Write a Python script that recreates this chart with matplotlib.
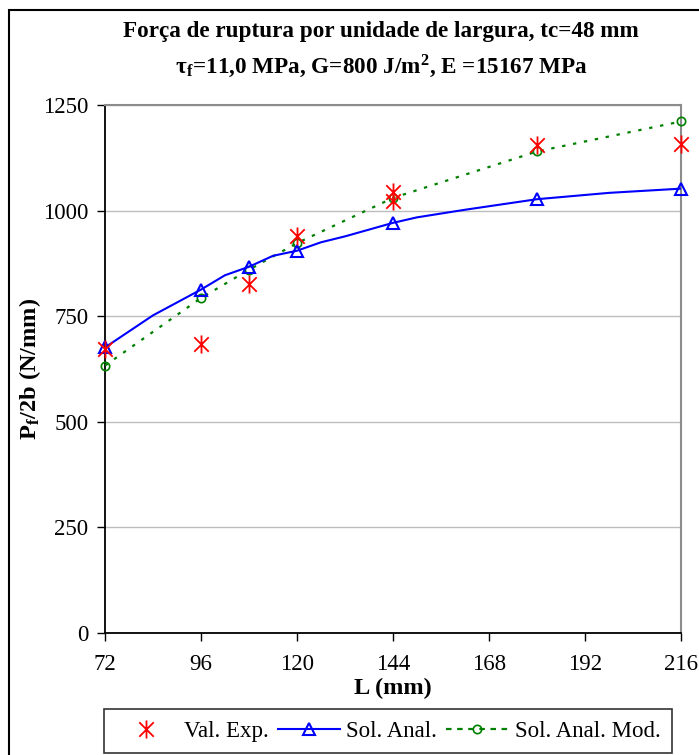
import matplotlib
matplotlib.use("Agg")
import matplotlib.pyplot as plt
from matplotlib.patches import Rectangle
from matplotlib.path import Path
from matplotlib.lines import Line2D

plt.rcParams['font.family'] = ['Liberation Serif', 'DejaVu Serif']
plt.rcParams['mathtext.fontset'] = 'stix'

# Data
L_exp = [72, 96, 108, 120, 144, 144, 180, 216]
P_exp = [673, 684, 827, 941, 1044, 1022, 1156, 1157]

L_anal_pts = [72, 96, 108, 120, 144, 180, 216]
P_anal_pts = [676, 813, 867, 905, 971, 1027, 1052]
L_anal_line = [72, 84, 96, 102, 108, 114, 120, 126, 132, 138, 144, 150, 162, 180, 198, 216]
P_anal_line = [676, 752, 813, 847, 867, 893, 905, 925, 939, 955, 971, 984, 1002, 1027, 1042, 1052]

L_mod = [72, 96, 108, 120, 144, 180, 216]
P_mod = [633, 793, 860, 923, 1030, 1140, 1211]

xticks = [72, 96, 120, 144, 168, 192, 216]
yticks = [0, 250, 500, 750, 1000, 1250]

star = Path([(-1, -1), (1, 1), (-1, 1), (1, -1), (0, -1.25), (0, 1.25)],
            [Path.MOVETO, Path.LINETO, Path.MOVETO, Path.LINETO, Path.MOVETO, Path.LINETO])

fig = plt.figure(figsize=(6.99, 7.55), dpi=100)
ax = fig.add_axes([105/699, 1-633/755, 576/699, 528/755])

ax.plot(L_mod, P_mod, color='#008000', linestyle=(0, (1.5, 3.5)), lw=1.6,
        marker='o', markersize=6, markerfacecolor='none', markeredgecolor='#008000',
        markeredgewidth=1.2, label='Sol. Anal. Mod.', zorder=3, clip_on=False)
ax.plot(L_anal_line, P_anal_line, color='#0000ff', lw=1.5, zorder=4)
ax.plot(L_anal_pts, P_anal_pts, color='#0000ff', lw=0, marker='^', markersize=8.5,
        markerfacecolor='none', markeredgewidth=1.5, label='Sol. Anal.', zorder=5, clip_on=False)
ax.plot(L_exp, P_exp, linestyle='none', marker=star, markersize=13,
        color='#ff0000', markeredgewidth=1.3, label='Val. Exp.', zorder=6, clip_on=False)

ax.set_xlim(72, 216)
ax.set_ylim(0, 1250)
ax.set_xticks(xticks)
ax.set_yticks(yticks)
ax.tick_params(axis='both', labelsize=16.5, direction='out', length=6, width=1)
ax.tick_params(axis='x', pad=9)
ax.tick_params(axis='y', pad=6)
ax.grid(axis='y', color='#bdbdbd', lw=1)
ax.set_axisbelow(True)
for s in ['top', 'right']:
    ax.spines[s].set_color('#8c8c8c')
    ax.spines[s].set_linewidth(1.5)
for s in ['left', 'bottom']:
    ax.spines[s].set_color('black')
    ax.spines[s].set_linewidth(1.3)

ax.set_xlabel('L (mm)', fontsize=17.5, fontweight='bold', labelpad=2)
ax.set_ylabel(r'P$_\mathregular{f}$/2b (N/mm)', fontsize=17.5, fontweight='bold', labelpad=0)

fig.text(381/699, 1-32/755, 'Força de ruptura por unidade de largura, tc=48 mm',
         ha='center', va='center', fontsize=16.7, fontweight='bold')
fig.text(381/699, 1-66/755, r'τ$_\mathregular{f}$=11,0 MPa, G=800 J/m$^\mathregular{2}$, E =15167 MPa',
         ha='center', va='center', fontsize=16.7, fontweight='bold')

h_exp = Line2D([], [], linestyle='none', marker=star, markersize=13,
               color='#ff0000', markeredgewidth=1.3)
h_anal = Line2D([], [], color='#0000ff', lw=1.5, marker='^', markersize=8.5,
                markerfacecolor='none', markeredgewidth=1.5)
h_mod = Line2D([], [], color='#008000', linestyle=(0, (2.5, 2.5)), lw=1.6,
               marker='o', markersize=6, markerfacecolor='none', markeredgewidth=1.2)
handles = [h_exp, h_anal, h_mod]
labels = ['Val. Exp.', 'Sol. Anal.', 'Sol. Anal. Mod.']
leg = fig.legend(handles, labels, loc='center', ncol=3,
                 bbox_to_anchor=(388/699, 1-731/755), fontsize=16.5, frameon=True,
                 fancybox=False, edgecolor='black', handlelength=2.7,
                 columnspacing=0.4, handletextpad=0.3, borderpad=0.5,
                 borderaxespad=0)
leg.get_frame().set_linewidth(1.2)

fig.patches.append(Rectangle((9/699, -0.01), 1.2, 1-10/755+0.01,
                             transform=fig.transFigure, fill=False,
                             edgecolor='black', lw=1.5))

fig.savefig('out.png', dpi=100)
